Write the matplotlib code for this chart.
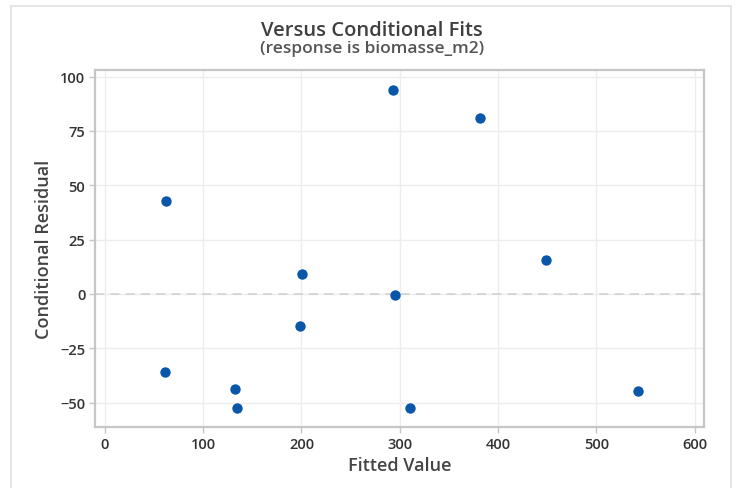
import matplotlib.pyplot as plt
from matplotlib.patches import Rectangle

# fitted values and conditional residuals
fitted = [62.7, 61.7, 132.9, 134.5, 200.1, 198.3, 293.6, 382.1, 448.6, 295.0, 310.3, 542.4]
resid = [42.9, -36.1, -43.6, -52.3, 9.2, -14.6, 93.6, 80.9, 15.8, -0.5, -52.3, -44.8]

x_ticks = [0, 100, 200, 300, 400, 500, 600]
y_ticks = [-50, -25, 0, 25, 50, 75, 100]

plt.rcParams["font.family"] = ["Open Sans", "DejaVu Sans"]

fig = plt.figure(figsize=(7.44, 4.89), dpi=100)
fig.patches.append(Rectangle((11 / 744, -0.05), 720 / 744, 1.05 - 7 / 489,
                             transform=fig.transFigure, fill=False,
                             edgecolor="#e0e0e0", linewidth=1.2))

ax = fig.add_axes([95 / 744, 1 - 428 / 489, 608.5 / 744, 357 / 489])
ax.scatter(fitted, resid, s=56, color="#0a56a8", zorder=3, linewidths=0)
ax.axhline(0, color="#cfcfcf", linestyle=(0, (6, 4)), linewidth=1.1, zorder=2)

ax.set_xlim(-10, 609)
ax.set_ylim(-61.2, 103)
ax.set_xticks(x_ticks)
ax.set_yticks(y_ticks)
ax.grid(True, color="#ececec", linewidth=1.0)
ax.set_axisbelow(True)

for s in ax.spines.values():
    s.set_color("#c6c6c6")
    s.set_linewidth(1.6)

ax.tick_params(length=4, width=1, color="#c6c6c6", labelsize=10.5,
               labelcolor="#333333", pad=3)
for lab in ax.get_xticklabels() + ax.get_yticklabels():
    lab.set_fontweight("semibold")

ax.set_xlabel("Fitted Value", fontsize=13, color="#444444",
              fontweight="semibold", labelpad=4)
ax.set_ylabel("Conditional Residual", fontsize=13, color="#444444",
              fontweight="semibold", labelpad=5)

fig.text(0.5, 1 - 31 / 489, "Versus Conditional Fits", ha="center", va="center",
         fontsize=14.5, color="#3f3f3f", fontweight="semibold")
fig.text(0.5, 1 - 49 / 489, "(response is biomasse_m2)", ha="center", va="center",
         fontsize=12.5, color="#555555", fontweight="semibold")

fig.savefig("out.png", dpi=100)
